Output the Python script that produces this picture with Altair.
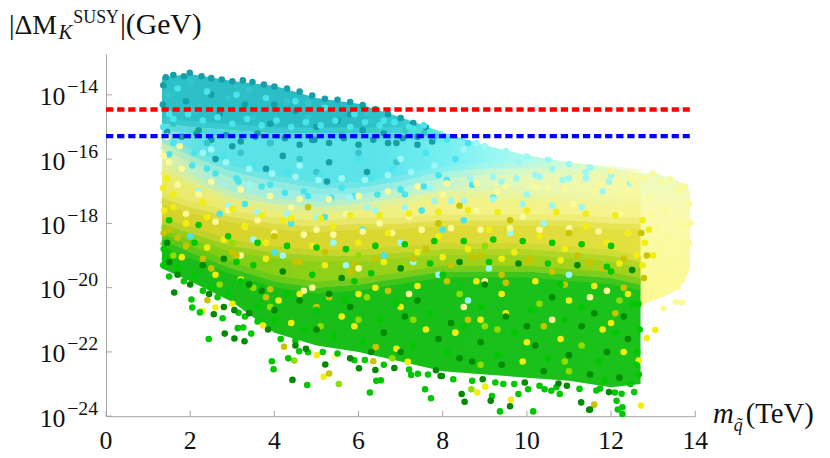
import altair as alt
import pandas as pd

# ---------------- data ----------------
x_ticks = [0, 2, 4, 6, 8, 10, 12, 14]
y_exponents = [-14, -16, -18, -20, -22, -24]

red_level = 3.5e-15
blue_level = 5.2e-16
line_x_end = 13.87

# colour-band boundaries of the dense point cloud, log10(|dM_K| / GeV)
band_x = [1.33, 2.0, 3.0, 4.0, 5.0, 6.0, 7.0, 8.0, 9.0, 10.0, 11.0, 12.0, 12.7]
band_top = [-13.45, -13.35, -13.57, -13.72, -14.10, -14.28, -14.70, -15.17, -15.57, -15.88, -16.10, -16.28, -16.45]
band_b1 = [-14.9, -15.0, -15.1, -15.2, -15.2, -15.2, -15.2, -15.3, -15.57, -15.88, -16.10, -16.28, -16.45]
band_b2 = [-15.5, -15.9, -16.4, -16.7, -16.9, -16.9, -16.7, -16.4, -16.3, -16.3, -16.3, -16.4, -16.5]
band_b3 = [-16.3, -16.7, -17.2, -17.4, -17.5, -17.4, -17.2, -17.0, -17.0, -17.1, -17.2, -17.3, -17.3]
band_b4 = [-17.2, -17.5, -17.8, -18.0, -18.1, -18.0, -18.0, -17.9, -17.9, -17.9, -17.9, -18.0, -18.0]
band_b5 = [-18.0, -18.3, -18.7, -18.9, -19.0, -19.0, -18.9, -18.8, -18.8, -18.8, -18.9, -19.0, -19.2]
band_b6 = [-18.5, -18.9, -19.4, -19.8, -20.0, -19.9, -19.7, -19.5, -19.5, -19.5, -19.6, -19.7, -19.9]
band_bottom = [-19.4, -19.8, -20.45, -21.4, -21.8, -22.0, -22.3, -22.6, -22.7, -22.8, -22.9, -23.1, -23.0]

# pale tail of the cloud beyond 12.7 TeV
tail_x = [12.6, 12.8, 13.0, 13.2, 13.4, 13.6, 13.75, 13.88]
tail_top = [-16.42, -16.45, -16.40, -16.50, -16.60, -16.68, -16.80, -17.0]
tail_bottom = [-20.8, -20.5, -20.4, -20.3, -20.2, -20.0, -19.8, -19.4]

# individual points (x in TeV, log10 value)
teal_pts = [(1.42, -13.45), (1.6, -13.38), (1.85, -13.42), (1.99, -13.31), (2.27, -13.42), (2.5, -13.48),
            (2.75, -13.52), (3.0, -13.58), (3.25, -13.55), (3.48, -13.6), (3.75, -13.68), (4.0, -13.74),
            (4.3, -13.8), (4.6, -13.9), (4.9, -14.02), (5.2, -14.12), (5.5, -14.15), (5.8, -14.22),
            (6.1, -14.32), (6.4, -14.45), (6.7, -14.6), (7.0, -14.72), (7.3, -14.88), (7.6, -15.02),
            (1.9, -14.2), (2.7, -14.6), (3.3, -14.3), (3.9, -14.9), (4.5, -14.5), (5.0, -15.0), (5.5, -14.8),
            (6.1, -15.1), (6.6, -15.2), (3.0, -15.6), (4.2, -15.9), (5.3, -16.1), (5.25, -16.7), (4.9, -15.4),
            (2.2, -15.1), (3.6, -15.2), (6.9, -15.5), (7.4, -15.3), (2.5, -14.0), (4.0, -14.3), (5.8, -14.6),
            (1.36, -13.7), (1.35, -14.3), (1.45, -15.15), (1.8, -15.3), (2.15, -15.2), (2.5, -15.4),
            (2.85, -15.25), (3.2, -15.45), (3.55, -15.3), (3.9, -15.5), (4.25, -15.35), (4.6, -15.55),
            (4.95, -15.4), (5.3, -15.5), (5.65, -15.35), (6.0, -15.55), (6.35, -15.4), (6.7, -15.5),
            (7.05, -15.35), (7.4, -15.55), (7.75, -15.45), (3.8, -16.3), (6.2, -16.4), (2.6, -16.0)]
teal2_pts = [(1.5, -14.0), (2.1, -14.5), (2.9, -14.1), (3.5, -14.7), (4.3, -14.2), (4.8, -14.7), (5.6, -15.2),
             (6.3, -14.8), (7.1, -15.1), (7.8, -15.3), (2.4, -15.5), (3.2, -15.8), (4.6, -16.0), (6.0, -15.8),
             (1.6, -14.9), (3.9, -15.5), (2.0, -13.6), (3.4, -13.85), (4.8, -14.25), (6.2, -14.55),
             (7.55, -15.2), (5.0, -16.4), (6.9, -16.1)]
cyan_pts = [(1.5, -14.6), (1.6, -15.5), (2.1, -15.8), (2.4, -16.3), (2.8, -15.9), (3.1, -16.6), (3.5, -16.2),
            (3.9, -16.8), (4.3, -16.4), (4.7, -17.0), (5.1, -16.5), (5.6, -16.9), (6.0, -16.0), (6.3, -16.6),
            (6.8, -16.3), (7.1, -17.1), (7.6, -15.8), (7.9, -16.5), (8.3, -16.0), (8.7, -16.8), (2.0, -18.4),
            (4.0, -18.9), (6.6, -19.0), (7.5, -17.6), (8.0, -18.2), (5.2, -17.8), (3.3, -17.4), (9.2, -17.2),
            (8.1, -15.4), (8.6, -15.5), (7.7, -15.15),
            (1.7, -13.8), (2.4, -13.9), (3.1, -14.0), (3.8, -14.1), (4.5, -14.2), (5.2, -14.4), (5.9, -14.6),
            (6.6, -14.8), (7.3, -15.05), (1.36, -15.0),
            (1.6, -14.75), (1.95, -14.6), (2.3, -14.8), (2.65, -14.7), (3.0, -14.9), (3.35, -14.75),
            (3.7, -14.95), (4.05, -14.8), (4.4, -15.0), (4.75, -14.85), (5.1, -14.95), (5.45, -14.8),
            (5.8, -15.0), (6.15, -14.85), (6.5, -14.95), (6.85, -14.85), (7.2, -15.0), (7.55, -14.95),
            (1.5, -15.85), (2.05, -16.2), (2.6, -16.45), (3.15, -16.7), (3.7, -16.85), (4.25, -17.05),
            (4.8, -17.15), (5.35, -17.2), (5.9, -17.15), (6.45, -17.1), (7.0, -16.95), (7.55, -16.85),
            (8.1, -16.65), (4.4, -18.0), (6.1, -18.2), (2.7, -17.7), (8.5, -17.9)]
lcyan_pts = [(2.5, -15.7), (3.4, -16.8), (4.6, -16.2), (5.8, -17.2), (7.0, -16.0), (7.7, -16.9), (8.5, -15.7),
             (9.0, -16.2), (9.4, -16.7), (9.8, -16.1), (10.2, -16.5), (10.6, -16.3), (11.0, -16.6), (11.4, -16.4),
             (8.2, -17.3), (6.2, -17.5), (10.0, -17.1), (12.0, -16.5), (11.8, -17.0), (9.6, -18.3), (7.3, -19.2),
             (5.4, -18.6), (9.0, -15.6), (9.5, -15.75), (10.0, -15.92), (10.5, -16.02), (11.0, -16.15),
             (11.5, -16.26), (8.8, -15.5),
             (8.65, -16.6), (9.2, -16.55), (9.75, -16.6), (10.3, -16.55), (10.85, -16.65), (11.4, -16.6),
             (11.95, -16.7), (12.45, -16.75), (2.3, -15.8), (2.85, -16.1), (3.4, -16.3), (3.95, -16.45),
             (4.5, -16.55), (5.05, -16.65), (5.6, -16.6), (6.15, -16.65), (6.7, -16.5), (7.25, -16.4),
             (7.8, -16.2), (2.2, -17.0), (2.9, -17.45), (3.6, -17.65), (4.3, -17.7), (5.0, -17.8), (5.7, -17.7),
             (6.4, -17.6), (7.1, -17.5), (7.8, -17.3), (8.5, -17.3), (9.2, -17.25), (9.9, -17.4),
             (10.6, -17.45), (11.3, -17.5), (3.5, -18.5), (7.0, -18.6), (10.4, -18.0),
             (5.7, -19.3), (7.9, -19.6), (9.1, -19.4), (4.2, -19.0), (11.0, -19.6), (8.6, -20.4)]
pale_pts = [(1.5, -16.1), (1.7, -16.8), (2.2, -17.1), (2.9, -17.6), (3.6, -17.9), (4.4, -17.5), (5.0, -18.2),
            (5.7, -17.7), (6.5, -18.0), (7.2, -17.8), (8.0, -17.1), (8.8, -17.6), (9.3, -17.0), (9.9, -17.8),
            (10.5, -16.9), (11.1, -17.4), (11.7, -16.8), (12.2, -17.7), (12.5, -16.7), (12.9, -17.2),
            (13.3, -17.6), (13.6, -17.0), (13.8, -18.1), (13.1, -18.6), (13.5, -19.2), (12.9, -19.6),
            (3.2, -19.0), (6.0, -19.4), (9.0, -19.8), (11.5, -20.3), (4.7, -20.1), (13.58, -19.98),
            (13.69, -20.46), (13.54, -20.44), (13.25, -20.65), (13.68, -18.62), (12.0, -16.38), (12.5, -16.5),
            (13.0, -16.45), (13.4, -16.62), (13.75, -16.85), (13.85, -17.4), (13.88, -18.0), (13.8, -19.0),
            (13.7, -19.6), (5.43, -22.15), (1.37, -15.9), (1.45, -15.3), (1.75, -15.6),
            (1.8, -16.3), (2.5, -16.7), (3.2, -16.95), (3.9, -17.15), (4.6, -17.25), (5.3, -17.25),
            (6.0, -17.15), (6.7, -17.0), (7.4, -16.85), (8.1, -16.75), (8.8, -16.75), (9.5, -16.85),
            (10.2, -16.85), (10.9, -16.95), (11.6, -17.0), (12.3, -17.05),
            (1.9, -17.7), (2.6, -17.95), (3.3, -18.1), (4.0, -18.3), (4.7, -18.35), (5.4, -18.35),
            (6.1, -18.25), (6.8, -18.3), (7.5, -18.2), (8.2, -18.15), (8.9, -18.2), (9.6, -18.15),
            (10.3, -18.2), (11.0, -18.15), (11.7, -18.25), (12.4, -18.3),
            (12.95, -17.7), (13.1, -18.1), (13.2, -19.4), (13.4, -18.4), (13.6, -18.0), (13.3, -20.1),
            (13.85, -18.6), (12.8, -16.6), (13.2, -16.7), (13.6, -16.9),
            (4.9, -20.0), (7.2, -20.2), (8.5, -20.6), (10.6, -21.0), (11.9, -20.1)]
yellow_pts = [(1.45, -16.6), (1.6, -17.5), (1.9, -18.0), (2.4, -17.8), (2.8, -18.5), (3.3, -18.1), (3.8, -18.6),
              (4.2, -17.9), (4.9, -18.7), (5.4, -18.1), (6.0, -18.6), (6.7, -18.3), (7.4, -18.9), (7.9, -18.4),
              (8.6, -18.8), (9.1, -18.2), (9.7, -18.9), (10.3, -18.4), (10.9, -18.8), (11.4, -18.1),
              (11.9, -18.6), (12.4, -18.3), (12.6, -19.0), (2.6, -19.6), (4.1, -20.4), (5.6, -20.9), (7.0, -20.6),
              (8.3, -21.4), (9.5, -20.8), (10.8, -21.6), (12.0, -21.1), (12.3, -22.0), (9.9, -22.3), (6.9, -21.9),
              (2.29, -20.73), (2.6, -20.62), (3.73, -21.18), (5.01, -22.1), (5.17, -22.77), (7.17, -22.31),
              (8.82, -23.26), (9.01, -23.08), (9.62, -23.49), (12.71, -23.67), (12.66, -22.27), (13.05, -21.32),
              (12.85, -21.57), (1.36, -16.9), (1.38, -17.6),
              (1.6, -17.1), (2.3, -17.35), (3.0, -17.55), (3.7, -17.75), (4.4, -17.85), (5.1, -17.85),
              (5.8, -17.75), (6.5, -17.75), (7.2, -17.7), (7.9, -17.65), (8.6, -17.6), (9.3, -17.65),
              (10.0, -17.6), (10.7, -17.65), (11.4, -17.7), (12.1, -17.75),
              (2.4, -18.75), (3.8, -19.1), (5.2, -19.3), (6.6, -19.2), (8.0, -19.05), (9.4, -19.1),
              (10.8, -19.15), (12.2, -19.25), (1.8, -19.05), (3.2, -19.75), (4.6, -20.2), (6.0, -20.2),
              (7.4, -19.95), (8.8, -19.8), (10.2, -19.8), (11.6, -19.95),
              (12.75, -17.9), (12.8, -18.6), (12.9, -18.2), (12.75, -19.3), (13.0, -19.0),
              (3.0, -20.5), (4.4, -21.1), (5.9, -21.2), (7.6, -21.3), (8.9, -21.0), (10.0, -21.7), (11.0, -20.4),
              (11.8, -21.3), (6.4, -20.0), (9.4, -20.2), (12.4, -20.2)]
olive_pts = [(1.5, -18.2), (1.9, -18.7), (2.3, -19.1), (3.0, -18.9), (3.5, -19.3), (4.0, -18.4), (4.6, -19.2),
             (5.2, -18.9), (5.8, -19.5), (6.4, -19.1), (7.0, -19.4), (7.6, -18.8), (8.2, -19.3), (8.9, -19.0),
             (9.4, -19.6), (10.0, -19.2), (10.6, -19.5), (11.2, -19.0), (11.8, -19.4), (12.3, -19.1),
             (7.9, -18.0), (9.6, -17.9), (11.0, -18.3), (5.0, -20.6), (8.6, -21.0), (10.4, -21.2), (12.1, -20.8),
             (3.8, -20.3), (2.41, -20.39), (4.23, -21.84), (5.3, -22.67), (6.35, -22.29), (6.41, -21.85),
             (11.6, -23.64), (1.37, -18.3),
             (1.7, -18.45), (3.1, -19.0), (4.5, -19.2), (5.9, -19.25), (7.3, -19.1), (8.7, -19.05),
             (10.1, -19.1), (11.5, -19.2), (2.5, -19.4), (3.9, -20.05), (5.3, -20.3), (6.7, -20.1),
             (8.1, -19.8), (9.5, -19.85), (10.9, -19.9), (12.3, -20.0), (4.8, -17.5), (8.4, -17.45),
             (12.72, -18.3), (12.85, -19.0), (12.78, -19.7)]
ygreen_pts = [(1.6, -19.0), (2.7, -19.9), (3.9, -20.6), (5.1, -21.2), (6.2, -20.3), (7.3, -21.0), (8.4, -20.2),
              (9.3, -21.3), (10.3, -20.5), (11.3, -21.8), (12.2, -20.4), (6.8, -22.2), (8.9, -22.4), (11.0, -22.6),
              (4.47, -22.27), (5.53, -23.0), (8.68, -23.16), (3.0, -18.6), (6.0, -19.0), (9.0, -18.7),
              (3.5, -20.0), (6.0, -21.0), (9.0, -21.2), (10.9, -22.3)]
green_pts = [(1.4, -19.1), (1.7, -19.4), (2.1, -19.6), (2.5, -20.0), (2.9, -20.2), (3.2, -19.8), (3.6, -20.6),
             (4.0, -21.0), (4.3, -20.2), (4.7, -21.3), (5.0, -20.7), (5.4, -21.5), (5.7, -20.4), (6.1, -21.7),
             (6.5, -21.0), (6.9, -20.5), (7.3, -21.8), (7.7, -20.8), (8.1, -22.0), (8.5, -21.2), (8.9, -20.6),
             (9.3, -22.1), (9.7, -21.4), (10.1, -20.7), (10.5, -22.2), (10.9, -21.0), (11.3, -20.6),
             (11.7, -22.3), (12.1, -21.4), (12.5, -20.5), (12.6, -22.4), (3.1, -19.2), (5.9, -19.8), (8.0, -19.6),
             (10.8, -19.9), (12.0, -19.5), (2.03, -20.37), (2.05, -20.62), (2.23, -20.77), (2.77, -20.95),
             (2.44, -21.6), (3.13, -21.26), (3.26, -21.24), (3.45, -21.43), (3.15, -20.78), (3.94, -22.29),
             (3.98, -22.54), (4.33, -22.2), (4.78, -23.03), (4.59, -21.98), (4.8, -22.01), (5.9, -22.26),
             (6.27, -23.26), (6.42, -22.9), (6.53, -22.88), (7.25, -22.72), (7.41, -22.68), (7.58, -23.16),
             (7.72, -23.44), (9.17, -23.37), (9.36, -23.85), (9.44, -23.0), (9.8, -23.31), (10.03, -23.16),
             (10.42, -23.16), (10.58, -23.21), (10.78, -23.31), (11.74, -23.14), (11.84, -22.9), (12.09, -23.26),
             (12.13, -23.52), (12.16, -23.79), (12.27, -23.72), (12.27, -23.93), (12.46, -23.0), (10.15, -23.85),
             (1.37, -18.8), (1.36, -19.3), (1.5, -17.9), (2.2, -18.05), (2.9, -18.4), (3.6, -18.6), (4.3, -18.7),
             (5.0, -18.75), (5.7, -18.8), (6.4, -18.7), (7.1, -18.65), (7.8, -18.55), (8.5, -18.55),
             (9.2, -18.5), (9.9, -18.55), (10.6, -18.6), (11.3, -18.65), (12.0, -18.7),
             (2.1, -18.6), (3.5, -19.3), (4.9, -19.6), (6.3, -19.55), (7.7, -19.25), (9.1, -19.2),
             (10.5, -19.25), (11.9, -19.35),
             (1.5, -19.65), (1.85, -19.8), (2.3, -20.1), (2.65, -20.3), (3.3, -20.9), (3.6, -21.05),
             (4.15, -21.6), (4.5, -21.65), (5.15, -22.0), (5.5, -22.05), (6.15, -22.25), (6.6, -22.4),
             (7.2, -22.55), (7.65, -22.7), (8.25, -22.85), (8.7, -22.9), (9.25, -22.95), (9.7, -23.0),
             (10.3, -23.05), (10.7, -23.1), (11.25, -23.15), (11.65, -23.2), (12.25, -23.3), (12.55, -23.25),
             (12.65, -20.5), (12.68, -21.3), (12.62, -22.0), (12.66, -22.7)]
dgreen_pts = [(1.5, -19.2), (2.0, -19.9), (2.8, -20.6), (3.7, -20.1), (4.5, -21.8), (5.3, -20.2), (6.3, -22.0),
              (7.1, -20.9), (7.9, -21.6), (8.7, -22.3), (9.5, -20.9), (10.2, -21.8), (11.0, -22.1), (11.6, -20.8),
              (12.4, -21.6), (4.6, -20.4), (9.0, -19.9), (12.2, -22.8), (1.62, -20.15), (2.56, -20.83),
              (2.82, -21.43), (3.05, -21.58), (3.29, -21.67), (3.4, -20.8), (4.43, -22.87), (5.21, -22.39),
              (6.01, -22.51), (6.4, -22.56), (7.84, -22.57), (7.98, -22.75), (8.45, -23.31), (8.52, -23.55),
              (9.14, -23.52), (9.6, -23.69), (10.75, -22.98), (11.29, -23.57), (11.5, -23.79), (11.48, -23.8),
              (2.8, -19.1), (4.2, -19.5), (5.6, -19.7), (7.0, -19.4), (8.4, -19.2), (9.8, -19.25), (11.2, -19.3),
              (12.5, -19.45), (1.7, -19.6), (2.45, -20.2), (3.05, -20.7), (3.85, -21.3), (4.75, -21.9),
              (5.8, -22.2), (6.85, -22.5), (7.95, -22.75), (8.95, -22.85), (9.95, -22.95), (10.95, -23.05),
              (11.95, -23.25), (1.45, -18.6),
              (2.3, -19.3), (3.4, -19.9), (4.0, -20.7), (5.0, -21.3), (5.8, -20.6), (6.6, -21.4), (7.4, -20.4),
              (8.2, -21.1), (8.9, -21.7), (9.4, -22.4), (10.0, -21.2), (10.6, -20.3), (11.3, -21.2),
              (11.9, -22.0), (12.3, -20.9), (7.0, -22.0), (8.4, -22.2), (10.4, -22.6), (11.5, -22.7)]

y_title_parts = ["|ΔM", "K", "SUSY", "|(GeV)"]
x_title_parts = ["m", "q̃", "(TeV)"]

# ---------------- build ----------------
FONT = "Liberation Serif, Times New Roman, DejaVu Serif, serif"
AXC = "#a3a3a3"
TXT = "#111111"
xs = alt.Scale(domain=[0, 14], nice=False, zero=False)
ys = alt.Scale(type="log", domain=[1e-24, 1.9e-13], nice=False)
xax = alt.Axis(labels=False, ticks=False, grid=False, title=None, domainColor=AXC, domainWidth=1)
yax = alt.Axis(labels=False, ticks=False, grid=False, title=None, domainColor=AXC, domainWidth=1)
X = alt.X("x:Q", scale=xs, axis=xax)
Y = alt.Y("y:Q", scale=ys, axis=yax)


def grad_h(stops):
    return alt.Gradient(gradient="linear", x1=0, x2=1, y1=0, y2=0,
                        stops=[alt.GradientStop(color=c, offset=o) for o, c in stops])


bounds = [band_top, band_b1, band_b2, band_b3, band_b4, band_b5, band_b6, band_bottom]
band_fills = [
    [(0, "#2ec0c8"), (0.41, "#2abcc4"), (0.5, "#36cad0"), (0.59, "#5ae6ea"), (1, "#8ef4f0")],
    [(0, "#8ee6d4"), (0.08, "#5ce2e6"), (0.45, "#5ae4ea"), (0.6, "#78f0f2"), (0.72, "#a0f8f2"),
     (0.85, "#cefcd8"), (1, "#eafcbc")],
    [(0, "#e0f0a0"), (0.1, "#aeeed4"), (0.35, "#9ceee6"), (0.55, "#b4f4de"), (0.7, "#e4f8b8"), (1, "#f8f8a4")],
    [(0, "#eaea6a"), (0.3, "#ecee80"), (0.6, "#f2f286"), (1, "#f6f48e")],
    [(0, "#d6d22c"), (0.5, "#dcd832"), (1, "#e4e040")],
    [(0, "#78cc14"), (0.5, "#9ad21a"), (1, "#a4d21c")],
    [(0, "#18bc18"), (1, "#1ac21a")],
]
# soft transition strokes drawn along the inner band boundaries
feather = [
    (1, 8, [(0, "#44d0d6"), (0.8, "#48d8de"), (1, "#66e8ec")]),
    (2, 13, [(0, "#b8eabc"), (0.1, "#80e8dc"), (0.45, "#7ce8e8"), (0.6, "#94f2ec"), (0.75, "#c8f8d8"),
             (1, "#f0faae")]),
    (3, 13, [(0, "#e6ee84"), (0.35, "#c8f0b4"), (0.6, "#d8f4b0"), (1, "#f6f698")]),
    (4, 13, [(0, "#e0de4c"), (0.5, "#e6e45c"), (1, "#ecea68")]),
    (5, 13, [(0, "#a8d020"), (0.5, "#bad626"), (1, "#c4da2e")]),
    (6, 13, [(0, "#48c418"), (0.5, "#5ec81a"), (1, "#60ca1a")]),
]

layers = []

tail_df = pd.DataFrame({"x": tail_x, "y": [10 ** v for v in tail_top], "y2": [10 ** v for v in tail_bottom]})
layers.append(alt.Chart(tail_df).mark_area(
    color=alt.Gradient(gradient="linear", x1=0, x2=0, y1=0, y2=1,
                       stops=[alt.GradientStop(color="#eafcc4", offset=0),
                              alt.GradientStop(color="#f8fab0", offset=0.25),
                              alt.GradientStop(color="#fcfaa0", offset=0.55),
                              alt.GradientStop(color="#fcf890", offset=1)])
).encode(x=X, y=Y, y2="y2:Q"))

for i, fill in enumerate(band_fills):
    df = pd.DataFrame({"x": band_x, "y": [10 ** v for v in bounds[i]], "y2": [10 ** v for v in bounds[i + 1]]})
    layers.append(alt.Chart(df).mark_area(color=grad_h(fill)).encode(x=X, y=Y, y2="y2:Q"))

for bi, n, stops in feather:
    fdf = pd.DataFrame({"x": band_x[:n], "y": [10 ** v for v in bounds[bi][:n]]})
    layers.append(alt.Chart(fdf).mark_line(color=grad_h(stops), strokeWidth=12, opacity=0.55,
                                           strokeCap="butt").encode(x=X, y=Y))

groups = [("teal", teal_pts, "#169fa8"), ("teal2", teal2_pts, "#34c6cc"), ("cyan", cyan_pts, "#48e6ec"),
          ("lcyan", lcyan_pts, "#9cf8f4"), ("pale", pale_pts, "#fafa9c"), ("yellow", yellow_pts, "#f2ee12"),
          ("olive", olive_pts, "#c9c300"), ("ygreen", ygreen_pts, "#8ede00"), ("green", green_pts, "#00c800"),
          ("dgreen", dgreen_pts, "#008a00")]
rows = []
for name, pts, _ in groups:
    for px, py in pts:
        rows.append({"x": px, "y": 10 ** py, "g": name})
pts_df = pd.DataFrame(rows)
layers.append(alt.Chart(pts_df).mark_circle(size=44, opacity=1).encode(
    x=X, y=Y,
    color=alt.Color("g:N", scale=alt.Scale(domain=[g[0] for g in groups], range=[g[2] for g in groups]),
                    legend=None)))

for lvl, col in [(red_level, "#ff0000"), (blue_level, "#0000ff")]:
    ldf = pd.DataFrame({"x": [0], "x2": [line_x_end], "y": [lvl]})
    layers.append(alt.Chart(ldf).mark_rule(color=col, strokeWidth=4.5, strokeDash=[7.3, 3.9]).encode(
        x=X, x2="x2:Q", y=Y))

# inward ticks
xt_df = pd.DataFrame({"x": x_ticks})
layers.append(alt.Chart(xt_df).mark_rule(color=AXC, strokeWidth=1).encode(
    x=X, y=alt.value(366), y2=alt.value(360.5)))
yt_df = pd.DataFrame({"y": [10.0 ** e for e in y_exponents]})
layers.append(alt.Chart(yt_df).mark_rule(color=AXC, strokeWidth=1).encode(
    y=Y, x=alt.value(0), x2=alt.value(6)))

# tick labels
xl_df = pd.DataFrame({"x": x_ticks, "t": [str(v) for v in x_ticks]})
layers.append(alt.Chart(xl_df).mark_text(font=FONT, fontSize=26, align="center", baseline="alphabetic",
                                         color=TXT).encode(x=X, y=alt.value(399), text="t:N"))
yl_df = pd.DataFrame({"y": [10.0 ** e for e in y_exponents], "ten": ["10"] * len(y_exponents),
                      "ex": ["\u2212" + str(-e) for e in y_exponents]})
layers.append(alt.Chart(yl_df).mark_text(font=FONT, fontSize=26, align="right", baseline="alphabetic",
                                         dy=10.5, color=TXT).encode(y=Y, x=alt.value(-41), text="ten:N"))
layers.append(alt.Chart(yl_df).mark_text(font=FONT, fontSize=20, align="right", baseline="alphabetic",
                                         dy=-1.5, color=TXT).encode(y=Y, x=alt.value(-8), text="ex:N"))


# axis titles
def txt(s, x, y, size, italic=False):
    return alt.Chart(pd.DataFrame({"t": [s]})).mark_text(
        font=FONT, fontSize=size, align="left", baseline="alphabetic", color=TXT,
        fontStyle="italic" if italic else "normal").encode(x=alt.value(x), y=alt.value(y), text="t:N")


layers += [
    txt(y_title_parts[0], -98, -20, 28),
    txt(y_title_parts[1], -48, -15, 21, True),
    txt(y_title_parts[2], -33, -31, 18),
    txt(y_title_parts[3], 14, -20, 30),
    txt(x_title_parts[0], 613, 373, 29, True),
    txt(x_title_parts[1], 634, 381, 18, True),
    txt(x_title_parts[2], 646, 373, 29),
]

chart = alt.layer(*layers).properties(
    width=595, height=366,
    padding={"left": 99, "top": 44, "right": 128, "bottom": 40},
    autosize=alt.AutoSizeParams(type="none"),
).configure_view(stroke=None)

chart.save("out.html", embed_options={"renderer": "svg", "actions": False})
